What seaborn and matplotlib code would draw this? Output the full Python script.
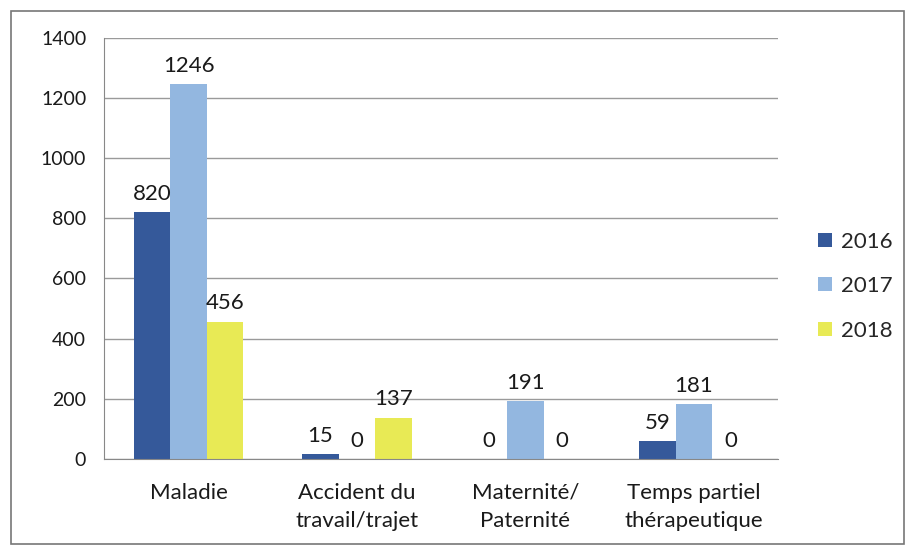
import pandas as pd
import numpy as np
import matplotlib.pyplot as plt
import seaborn as sns
from matplotlib.patches import Rectangle

categories = ['Maladie', 'Accident du\ntravail/trajet', 'Maternité/\nPaternité', 'Temps partiel\nthérapeutique']
years = ['2016', '2017', '2018']
values_2016 = [820, 15, 0, 59]
values_2017 = [1246, 0, 191, 181]
values_2018 = [456, 137, 0, 0]
colors = ['#35599a', '#93b7e0', '#e8ea55']

df = pd.DataFrame({
    'cat': categories * 3,
    'year': [y for y in years for _ in categories],
    'val': values_2016 + values_2017 + values_2018,
})

sns.set_style('white')
plt.rcParams['font.family'] = ['Lato', 'DejaVu Sans']

fig = plt.figure(figsize=(9.07, 5.47), dpi=100)
ax = fig.add_axes([0.115, 0.161, 0.743, 0.77])

sns.barplot(data=df, x='cat', y='val', hue='year', palette=colors, width=0.65,
            saturation=1, ax=ax, edgecolor='none')

for c in ax.containers:
    ax.bar_label(c, padding=6, fontsize=16, color='#1a1a1a')

ax.set_ylim(0, 1400)
ax.set_yticks(np.arange(0, 1401, 200))
ax.yaxis.grid(True, color='#9a9a9a', lw=1)
ax.set_axisbelow(True)
ax.set_xlabel('')
ax.set_ylabel('')
ax.tick_params(axis='y', labelsize=14, colors='#1a1a1a', length=5, pad=8, color='#888888')
ax.tick_params(axis='x', labelsize=16, colors='#1a1a1a', length=0, pad=17)
for lbl in ax.get_xticklabels():
    lbl.set_linespacing(1.5)
ax.set_xticks(np.arange(-0.5, 4, 1), minor=True)
ax.tick_params(axis='x', which='minor', length=5, color='#888888')
for s in ['top', 'right']:
    ax.spines[s].set_visible(False)
for s in ['left', 'bottom']:
    ax.spines[s].set_color('#888888')

ax.legend(loc='center left', bbox_to_anchor=(1.03, 0.41), frameon=False, fontsize=16,
          handlelength=0.6, handleheight=0.6, handletextpad=0.4, labelspacing=1.1)

fig.patches.append(Rectangle((0.012, 0.005), 0.985, 0.975, transform=fig.transFigure,
                             fill=False, edgecolor='#777777', lw=1.2))

fig.savefig('out.png', dpi=100)
